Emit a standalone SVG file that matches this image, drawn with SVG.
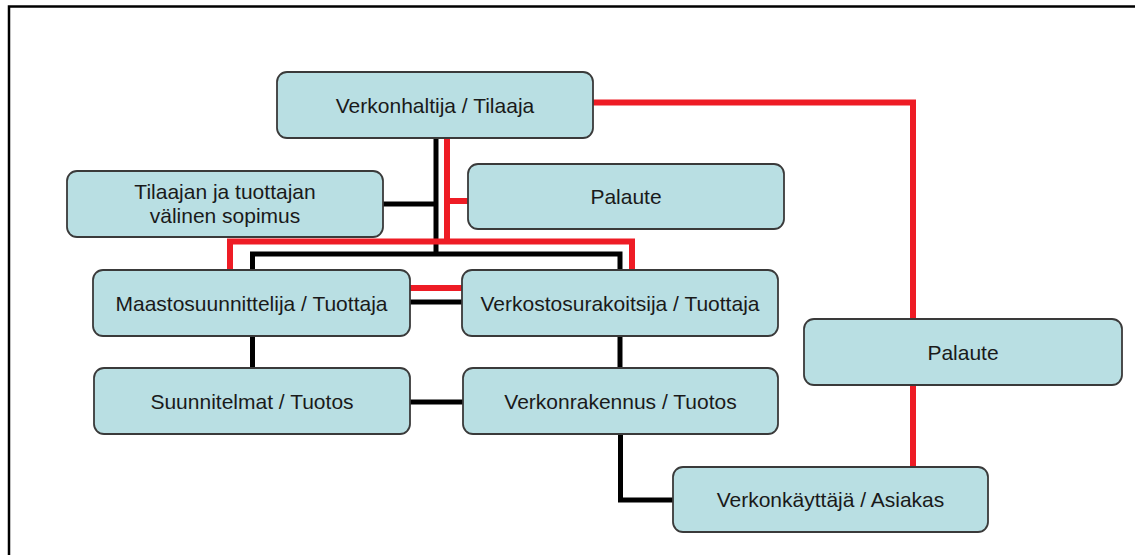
<svg xmlns="http://www.w3.org/2000/svg" width="1135" height="555" viewBox="0 0 1135 555">
<style>
.box{fill:#b9dfe3;stroke:#3a3a3a;stroke-width:1.8}
.t{font-family:"Liberation Sans",Arial,sans-serif;font-size:21px;fill:#1a1a1a;text-anchor:middle}
.k{fill:none;stroke:#000;stroke-width:5}
.r{fill:none;stroke:#ee1c25;stroke-width:6}
</style>
<rect x="0" y="0" width="1135" height="555" fill="#fff"/>
<path d="M9,555 V6.5 H1135" fill="none" stroke="#000" stroke-width="2.5"/>
<g id="connectors">
<path class="k" d="M436,138 V254"/>
<path class="k" d="M252.5,270 V254 H620 V270"/>
<path class="k" d="M383,204 H436"/>
<path class="k" d="M410,302 H462" stroke-width="6"/>
<path class="k" d="M252.5,336 V368"/>
<path class="k" d="M620,336 V368"/>
<path class="k" d="M410,402 H463" stroke-width="7"/>
<path class="k" d="M620.5,434 V500 H673"/>
<path class="r" d="M447,138 V244"/>
<path class="r" d="M230,270 V241.5 H632 V270"/>
<path class="r" d="M447,201 H468"/>
<path class="r" d="M410,288 H462"/>
<path class="r" d="M593,102.5 H913 V319"/>
<path class="r" d="M913,385 V467"/>
</g>
<g id="verkonhaltija"><rect class="box" x="277" y="72" width="316" height="66" rx="10"/><text class="t" x="435" y="113">Verkonhaltija / Tilaaja</text></g>
<g id="sopimus"><rect class="box" x="67" y="171" width="316" height="66" rx="10"/><text class="t" x="225" y="199">Tilaajan ja tuottajan</text><text class="t" x="225" y="223">välinen sopimus</text></g>
<g id="palaute1"><rect class="box" x="468" y="164" width="316" height="65" rx="10"/><text class="t" x="626" y="204">Palaute</text></g>
<g id="maasto"><rect class="box" x="93" y="270" width="317" height="66" rx="10"/><text class="t" x="251.5" y="311">Maastosuunnittelija / Tuottaja</text></g>
<g id="verkosto"><rect class="box" x="462" y="270" width="316" height="66" rx="10"/><text class="t" x="620" y="311">Verkostosurakoitsija / Tuottaja</text></g>
<g id="suunnitelmat"><rect class="box" x="94" y="368" width="316" height="66" rx="10"/><text class="t" x="252" y="409">Suunnitelmat / Tuotos</text></g>
<g id="verkonrakennus"><rect class="box" x="463" y="368" width="315" height="66" rx="10"/><text class="t" x="620.5" y="409">Verkonrakennus / Tuotos</text></g>
<g id="verkonkayttaja"><rect class="box" x="673" y="467" width="315" height="65" rx="10"/><text class="t" x="830.5" y="507">Verkonkäyttäjä / Asiakas</text></g>
<g id="palaute2"><rect class="box" x="804" y="319" width="318" height="66" rx="10"/><text class="t" x="963" y="360">Palaute</text></g>
</svg>
